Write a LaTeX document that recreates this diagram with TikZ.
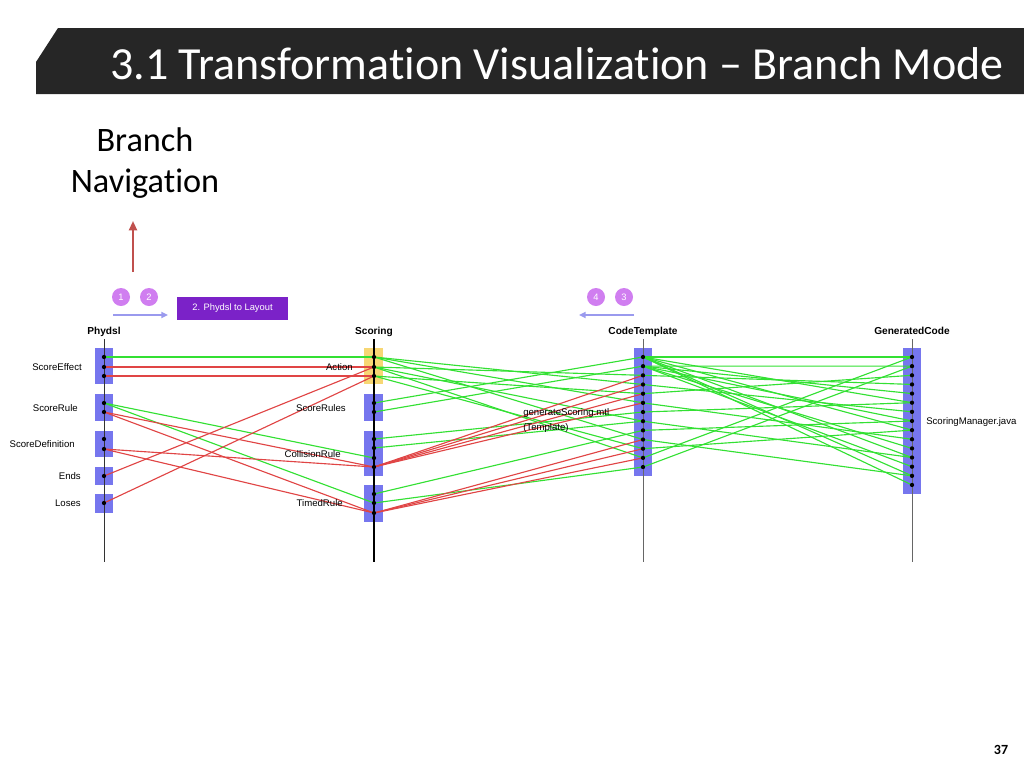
\documentclass[tikz,border=0pt]{standalone}
\usepackage{fontspec}
\setmainfont[Ligatures=NoCommon]{Carlito}
\newfontfamily\chartfont{Liberation Sans}
\usetikzlibrary{arrows.meta, positioning}

\definecolor{barbg}{HTML}{262626}
\definecolor{boxblue}{HTML}{7676EE}
\definecolor{boxyellow}{HTML}{F7D774}
\definecolor{linkgreen}{HTML}{33E033}
\definecolor{linkred}{HTML}{E04545}
\definecolor{navviolet}{HTML}{D07EF0}
\definecolor{navarrow}{HTML}{9A9AEE}
\definecolor{navbox}{HTML}{7B22C8}
\definecolor{uparrow}{HTML}{C0504D}

\tikzset{
	colhead/.style={font=\chartfont\bfseries\fontsize{7.6}{9}\selectfont, inner sep=0pt, anchor=base},
	elemlabel/.style={font=\chartfont\fontsize{7.2}{8.5}\selectfont, inner sep=0pt},
	navdot/.style={circle, fill=navviolet, text=white, minimum size=13.5pt, inner sep=0pt, font=\chartfont\fontsize{7}{8}\selectfont},
	greenlink/.style={linkgreen, line width=0.85pt},
	redlink/.style={linkred, line width=0.85pt},
	dotmark/.style={circle, fill=black, inner sep=0pt, minimum size=3.2pt},
}

\begin{document}
\begin{tikzpicture}[x=0.75pt, y=-0.75pt]
			\useasboundingbox (0,0) rectangle (1024,768);
			
			% Titelbalken
			\fill[barbg] (58,28) -- (1024,28) -- (1024,94) -- (36,94) -- (36,62) -- cycle;
			\node[anchor=west, text=white, inner sep=0pt, font=\fontsize{34.5}{40}\selectfont] (title) at (110,64) {3.1 Transformation Visualization – Branch Mode};
			\node[inner sep=0pt, font=\bfseries\fontsize{10.5}{12}\selectfont] (pagenum) at (1001,750) {37};
			
			% Branch Navigation
			\node[align=center, inner sep=0pt, font=\fontsize{25.7}{31}\selectfont] (branchnav) at (145,163) {Branch\\Navigation};
			\coordinate (upfoot) at (133,272);
			\coordinate (uptip) at (133,221);
			\draw[uparrow, line width=1.5pt, -{Triangle[length=7pt, width=6pt]}] (upfoot) -- (uptip);
			
			% Navigation vor/zurueck
			\node[navdot] (nav1) at (121,297) {1};
			\node[navdot] (nav2) at (149,297) {2};
			\coordinate (fwdstart) at (113,315);
			\coordinate (fwdend) at (168,315);
			\draw[navarrow, line width=1.3pt, -{Triangle[length=5pt, width=4.5pt]}] (fwdstart) -- (fwdend);
			\node[fill=navbox, text=white, minimum width=83pt, minimum height=17pt, inner sep=0pt, font=\chartfont\fontsize{7}{8}\selectfont] (layoutbox) at (232.5,308.5) {2. Phydsl to Layout};
			\node[navdot] (nav4) at (596,297) {4};
			\node[navdot] (nav3) at (624,297) {3};
			\coordinate (backstart) at (634,315);
			\coordinate (backend) at (579,315);
			\draw[navarrow, line width=1.3pt, -{Triangle[length=5pt, width=4.5pt]}] (backstart) -- (backend);
			
			% Spaltenkoepfe
			\foreach \cx/\cname/\clabel in {104/ph/Phydsl, 374/sc/Scoring, 643/ct/CodeTemplate, 912/gc/GeneratedCode} {
				\node[colhead] (head-\cname) at (\cx,334) {\clabel};
			}
			
			% Elementbloecke
			\foreach \ytop/\ybot in {348/384, 394/421, 431/457, 467/485, 494/513} {
				\fill[boxblue] (95,\ytop) rectangle (113,\ybot);
			}
			\fill[boxyellow] (364,348) rectangle (383,384);
			\foreach \ytop/\ybot in {394/421, 431/476, 485/522} {
				\fill[boxblue] (364,\ytop) rectangle (383,\ybot);
			}
			\fill[boxblue] (634,348) rectangle (652,476);
			\fill[boxblue] (903,348) rectangle (921,494);
			
			% Lebenslinien
			\draw[black!80, line width=0.6pt] (104,339) -- (104,562);
			\draw[black, line width=0.9pt] (374,339) -- (374,562);
			\draw[black!60, line width=0.5pt] (643,339) -- (643,562);
			\draw[black!60, line width=0.5pt] (912,339) -- (912,562);
			
			% Ankerpunkte
			\foreach \y [count=\i] in {357,367,376,403,412,439,449,476,503} {
				\coordinate (ph\i) at (104,\y);
			}
			\foreach \y [count=\i] in {357,367,376,403,412,439,448,458,467,494,503,513} {
				\coordinate (sc\i) at (374,\y);
			}
			\foreach \i in {1,...,13} {
				\coordinate (ct\i) at (643,{357+9.17*(\i-1)});
			}
			\foreach \i in {1,...,15} {
				\coordinate (gc\i) at (912,{357+9.14*(\i-1)});
			}
			
			% Verbindungen Phydsl -> Scoring
			\foreach \a/\b in {ph1/sc1, ph4/sc8, ph4/sc11} {
				\draw[greenlink] (\a) -- (\b);
			}
			\foreach \a/\b in {ph2/sc2, ph3/sc3, ph5/sc9, ph5/sc12, ph7/sc9, ph7/sc12, ph8/sc2, ph9/sc3} {
				\draw[redlink] (\a) -- (\b);
			}
			
			% Verbindungen Scoring -> CodeTemplate
			\foreach \a/\b in {sc1/ct4, sc1/ct6, sc1/ct10, sc2/ct3, sc2/ct8, sc2/ct12, sc3/ct5, sc3/ct11, sc4/ct1, sc5/ct2, sc6/ct7, sc7/ct8, sc10/ct9, sc11/ct13} {
				\draw[greenlink] (\a) -- (\b);
			}
			\foreach \a/\b in {sc9/ct3, sc9/ct4, sc9/ct5, sc9/ct6, sc12/ct10, sc12/ct11, sc12/ct12} {
				\draw[redlink] (\a) -- (\b);
			}
			
			% Verbindungen CodeTemplate -> GeneratedCode
			\foreach \a/\b in {ct1/gc1, ct1/gc6, ct1/gc9, ct1/gc12, ct1/gc14, ct1/gc15, ct2/gc2, ct2/gc5, ct2/gc8, ct2/gc11, ct2/gc13, ct3/gc4, ct4/gc7, ct5/gc3, ct6/gc10, ct7/gc6, ct8/gc12, ct9/gc8, ct10/gc14, ct11/gc9, ct12/gc1, ct13/gc2} {
				\draw[greenlink] (\a) -- (\b);
			}
			
			% Punkte
			\foreach \i in {1,...,9} {\node[dotmark] (dot-ph\i) at (ph\i) {};}
			\foreach \i in {1,...,12} {\node[dotmark] (dot-sc\i) at (sc\i) {};}
			\foreach \i in {1,...,13} {\node[dotmark] (dot-ct\i) at (ct\i) {};}
			\foreach \i in {1,...,15} {\node[dotmark] (dot-gc\i) at (gc\i) {};}
			
			% Beschriftungen
			\node[elemlabel, anchor=east] (lbl-effect) at (82,367) {ScoreEffect};
			\node[elemlabel, anchor=east] (lbl-rule) at (78,408) {ScoreRule};
			\node[elemlabel, anchor=east] (lbl-def) at (75,444) {ScoreDefinition};
			\node[elemlabel, anchor=east] (lbl-ends) at (81,476) {Ends};
			\node[elemlabel, anchor=east] (lbl-loses) at (81,503) {Loses};
			\node[elemlabel, anchor=east] (lbl-action) at (353,367) {Action};
			\node[elemlabel, anchor=east] (lbl-rules) at (346,408) {ScoreRules};
			\node[elemlabel, anchor=east] (lbl-coll) at (341,454) {CollisionRule};
			\node[elemlabel, anchor=east] (lbl-timed) at (343,503) {TimedRule};
			\node[elemlabel, anchor=west] (lbl-tmpl) at (523,413) {generateScoring.mtl};
			\node[elemlabel, anchor=west] (lbl-tmpltype) at (523,428) {(Template)};
			\node[elemlabel, anchor=west] (lbl-java) at (926,422) {ScoringManager.java};
		\end{tikzpicture}
\end{document}
